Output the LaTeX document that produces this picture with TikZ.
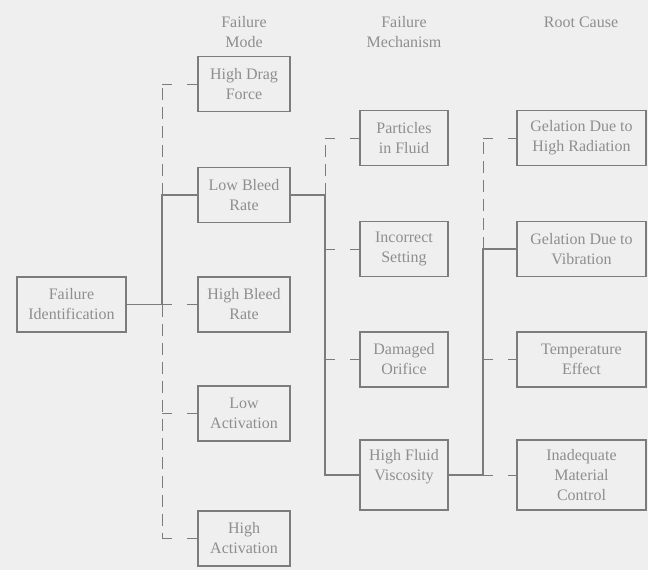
\documentclass[tikz,border=0pt]{standalone}
\usepackage{fontspec}
\setmainfont{Liberation Serif}
\definecolor{paper}{HTML}{EFEFEF}
\definecolor{ink}{HTML}{7C7C7C}
\definecolor{inktext}{HTML}{8E8E8E}

\tikzset{% faded report scan
  box/.style ={draw=ink, line width=1.3pt, inner sep=0pt, align=center,
    text=inktext, font=\fontsize{16}{20}\selectfont, minimum height=55pt},
  modebox/.style={box, minimum width=92pt},
  mechbox/.style={box, minimum width=88pt},
  causebox/.style={box, minimum width=129pt},
  heading/.style={align=center, text=inktext, font=\fontsize{16}{20}\selectfont},
  mainpath/.style={draw=ink, line width=1.8pt},
  altpath/.style={draw=ink, line width=1pt, dash pattern=on 12pt off 7pt},
  stub/.style={draw=ink, line width=1pt, dash pattern=on 10pt off 15pt},
}

\begin{document}
\begin{tikzpicture}[x=1pt, y=-1pt]
  \fill[paper] (0,0) rectangle (648,570);
  \useasboundingbox (0,0) rectangle (648,570);
  % column headings
  \node[heading] (hmode) at (244, 32) {Failure\\Mode};
  \node[heading] (hmech) at (404, 32) {Failure\\Mechanism};
  \node[heading] (hcause) at (581, 22) {Root Cause};
  % boxes
  \node[box, minimum width=109pt] (fid) at (71.5, 304.5) {Failure\\Identification};
  \node[modebox] (drag) at (244, 84) {High Drag\\Force};
  \node[modebox] (lowbleed) at (244, 195) {Low Bleed\\Rate};
  \node[modebox] (highbleed) at (244, 304.5) {High Bleed\\Rate};
  \node[modebox] (lowact) at (244, 413.5) {Low\\Activation};
  \node[modebox] (highact) at (244, 538.5) {High\\Activation};
  \node[mechbox] (particles) at (404, 138) {Particles\\in Fluid};
  \node[mechbox] (setting) at (404, 249) {Incorrect\\Setting};
  \node[mechbox] (orifice) at (404, 359.5) {Damaged\\Orifice};
  \node[mechbox, minimum height=70pt] (viscosity) at (404, 475) {High Fluid\\Viscosity\\\mbox{}};
  \node[causebox] (radiation) at (581.5, 138) {Gelation Due to\\High Radiation};
  \node[causebox] (vibration) at (581.5, 249) {Gelation Due to\\Vibration};
  \node[causebox] (temperature) at (581.5, 359.5) {Temperature\\Effect};
  \node[causebox, minimum height=70pt] (material) at (581.5, 475) {Inadequate\\Material\\Control};
  % bus points
  \coordinate (m1) at (162, 84);
  \coordinate (m2) at (162, 195);
  \coordinate (m3) at (162, 304.5);
  \coordinate (m4) at (162, 413.5);
  \coordinate (m5) at (162, 538.5);
  \coordinate (k1) at (325, 138);
  \coordinate (k0) at (325, 195);
  \coordinate (k2) at (325, 249);
  \coordinate (k3) at (325, 359.5);
  \coordinate (k4) at (325, 475);
  \coordinate (r1) at (483, 138);
  \coordinate (r2) at (483, 249);
  \coordinate (r3) at (483, 359.5);
  \coordinate (r4) at (483, 475);
  % failure path
  \draw[mainpath] (fid.east) -- (m3) -- (m2) -- (lowbleed.west);
  \draw[mainpath] (lowbleed.east) -- (k0) -- (k4) -- (viscosity.west);
  \draw[mainpath] (viscosity.east) -- (r4) -- (r2) -- (vibration.west);
  % other branches
  \draw[altpath] (m2) -- (m1);
  \draw[altpath] (m3) -- (m5);
  \draw[altpath] (k0) -- (k1);
  \draw[altpath] (r2) -- (r1);
  \draw[stub] (m1) -- (drag.west);
  \draw[stub] (m3) -- (highbleed.west);
  \draw[stub] (m4) -- (lowact.west);
  \draw[stub] (m5) -- (highact.west);
  \draw[stub] (k1) -- (particles.west);
  \draw[stub] (k2) -- (setting.west);
  \draw[stub] (k3) -- (orifice.west);
  \draw[stub] (r1) -- (radiation.west);
  \draw[stub] (r3) -- (temperature.west);
  \draw[stub] (r4) -- (material.west);
\end{tikzpicture}
\end{document}
